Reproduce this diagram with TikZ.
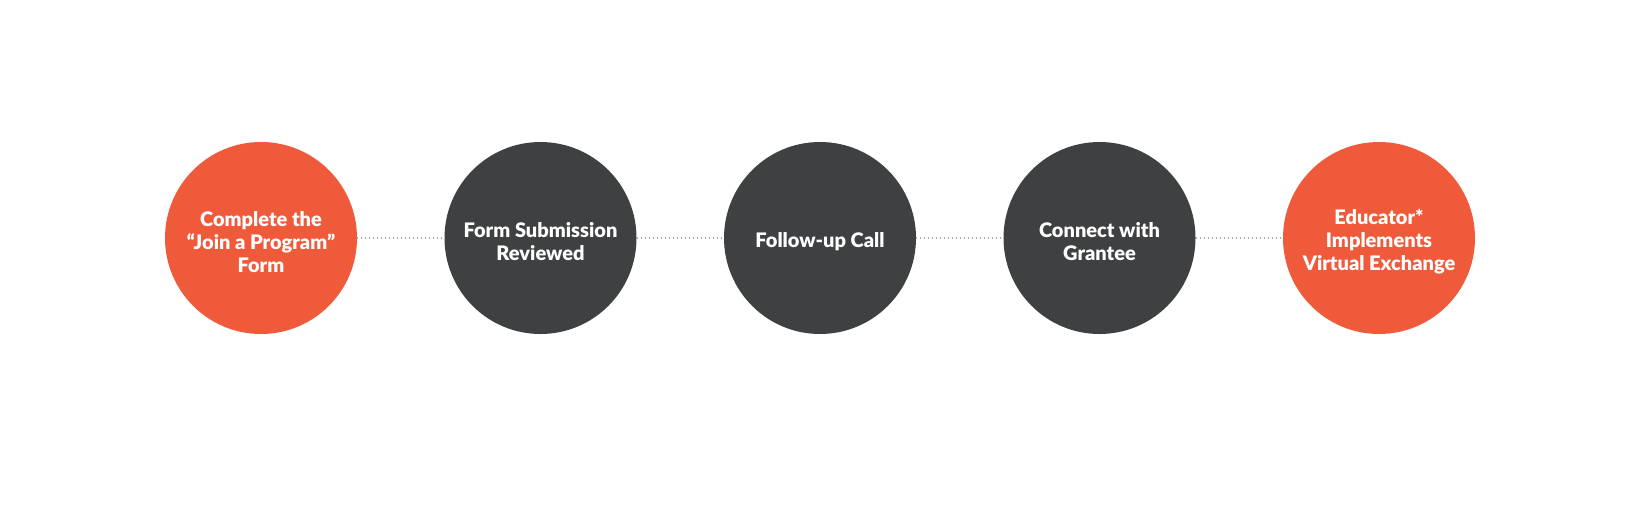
\documentclass[tikz,border=0pt]{standalone}
\usepackage{fontspec}
\setmainfont{Lato}[BoldFont={Lato Black}]
\definecolor{orng}{HTML}{EE5A3A}
\definecolor{dgray}{HTML}{3F4042}
\definecolor{dotgray}{HTML}{A8A8A8}
\begin{document}
\begin{tikzpicture}[x=1pt,y=1pt,
  stepcirc/.style={circle, minimum size=192pt, inner sep=0pt},
  orangecirc/.style={stepcirc, fill=orng},
  graycirc/.style={stepcirc, fill=dgray},
  steptext/.style={text=white, font=\fontsize{20}{23}\selectfont\bfseries,
    align=center, inner sep=0pt},
  dotline/.style={draw=dotgray, line width=1.2pt, dash pattern=on 1.2pt off 2.8pt}]
\useasboundingbox (0,0) rectangle (1645,-507);
\node[orangecirc] (a) at (261,-238) {};
\node[graycirc] (b) at (540.5,-238) {};
\node[graycirc] (c) at (820,-238) {};
\node[graycirc] (d) at (1099.5,-238) {};
\node[orangecirc] (e) at (1379,-238) {};
\node[steptext] (ta) at ([yshift=-4pt]a.center) {Complete the\\“Join a Program”\\Form};
\node[steptext] (tb) at ([yshift=-4pt]b.center) {Form Submission\\Reviewed};
\node[steptext] (tc) at ([yshift=-4pt]c.center) {Follow-up Call};
\node[steptext] (td) at ([yshift=-4pt]d.center) {Connect with\\Grantee};
\node[steptext] (te) at ([yshift=-4pt]e.center) {Educator*\\Implements\\Virtual Exchange};
\draw[dotline] (a) -- (b);
\draw[dotline] (b) -- (c);
\draw[dotline] (c) -- (d);
\draw[dotline] (d) -- (e);
\end{tikzpicture}
\end{document}
